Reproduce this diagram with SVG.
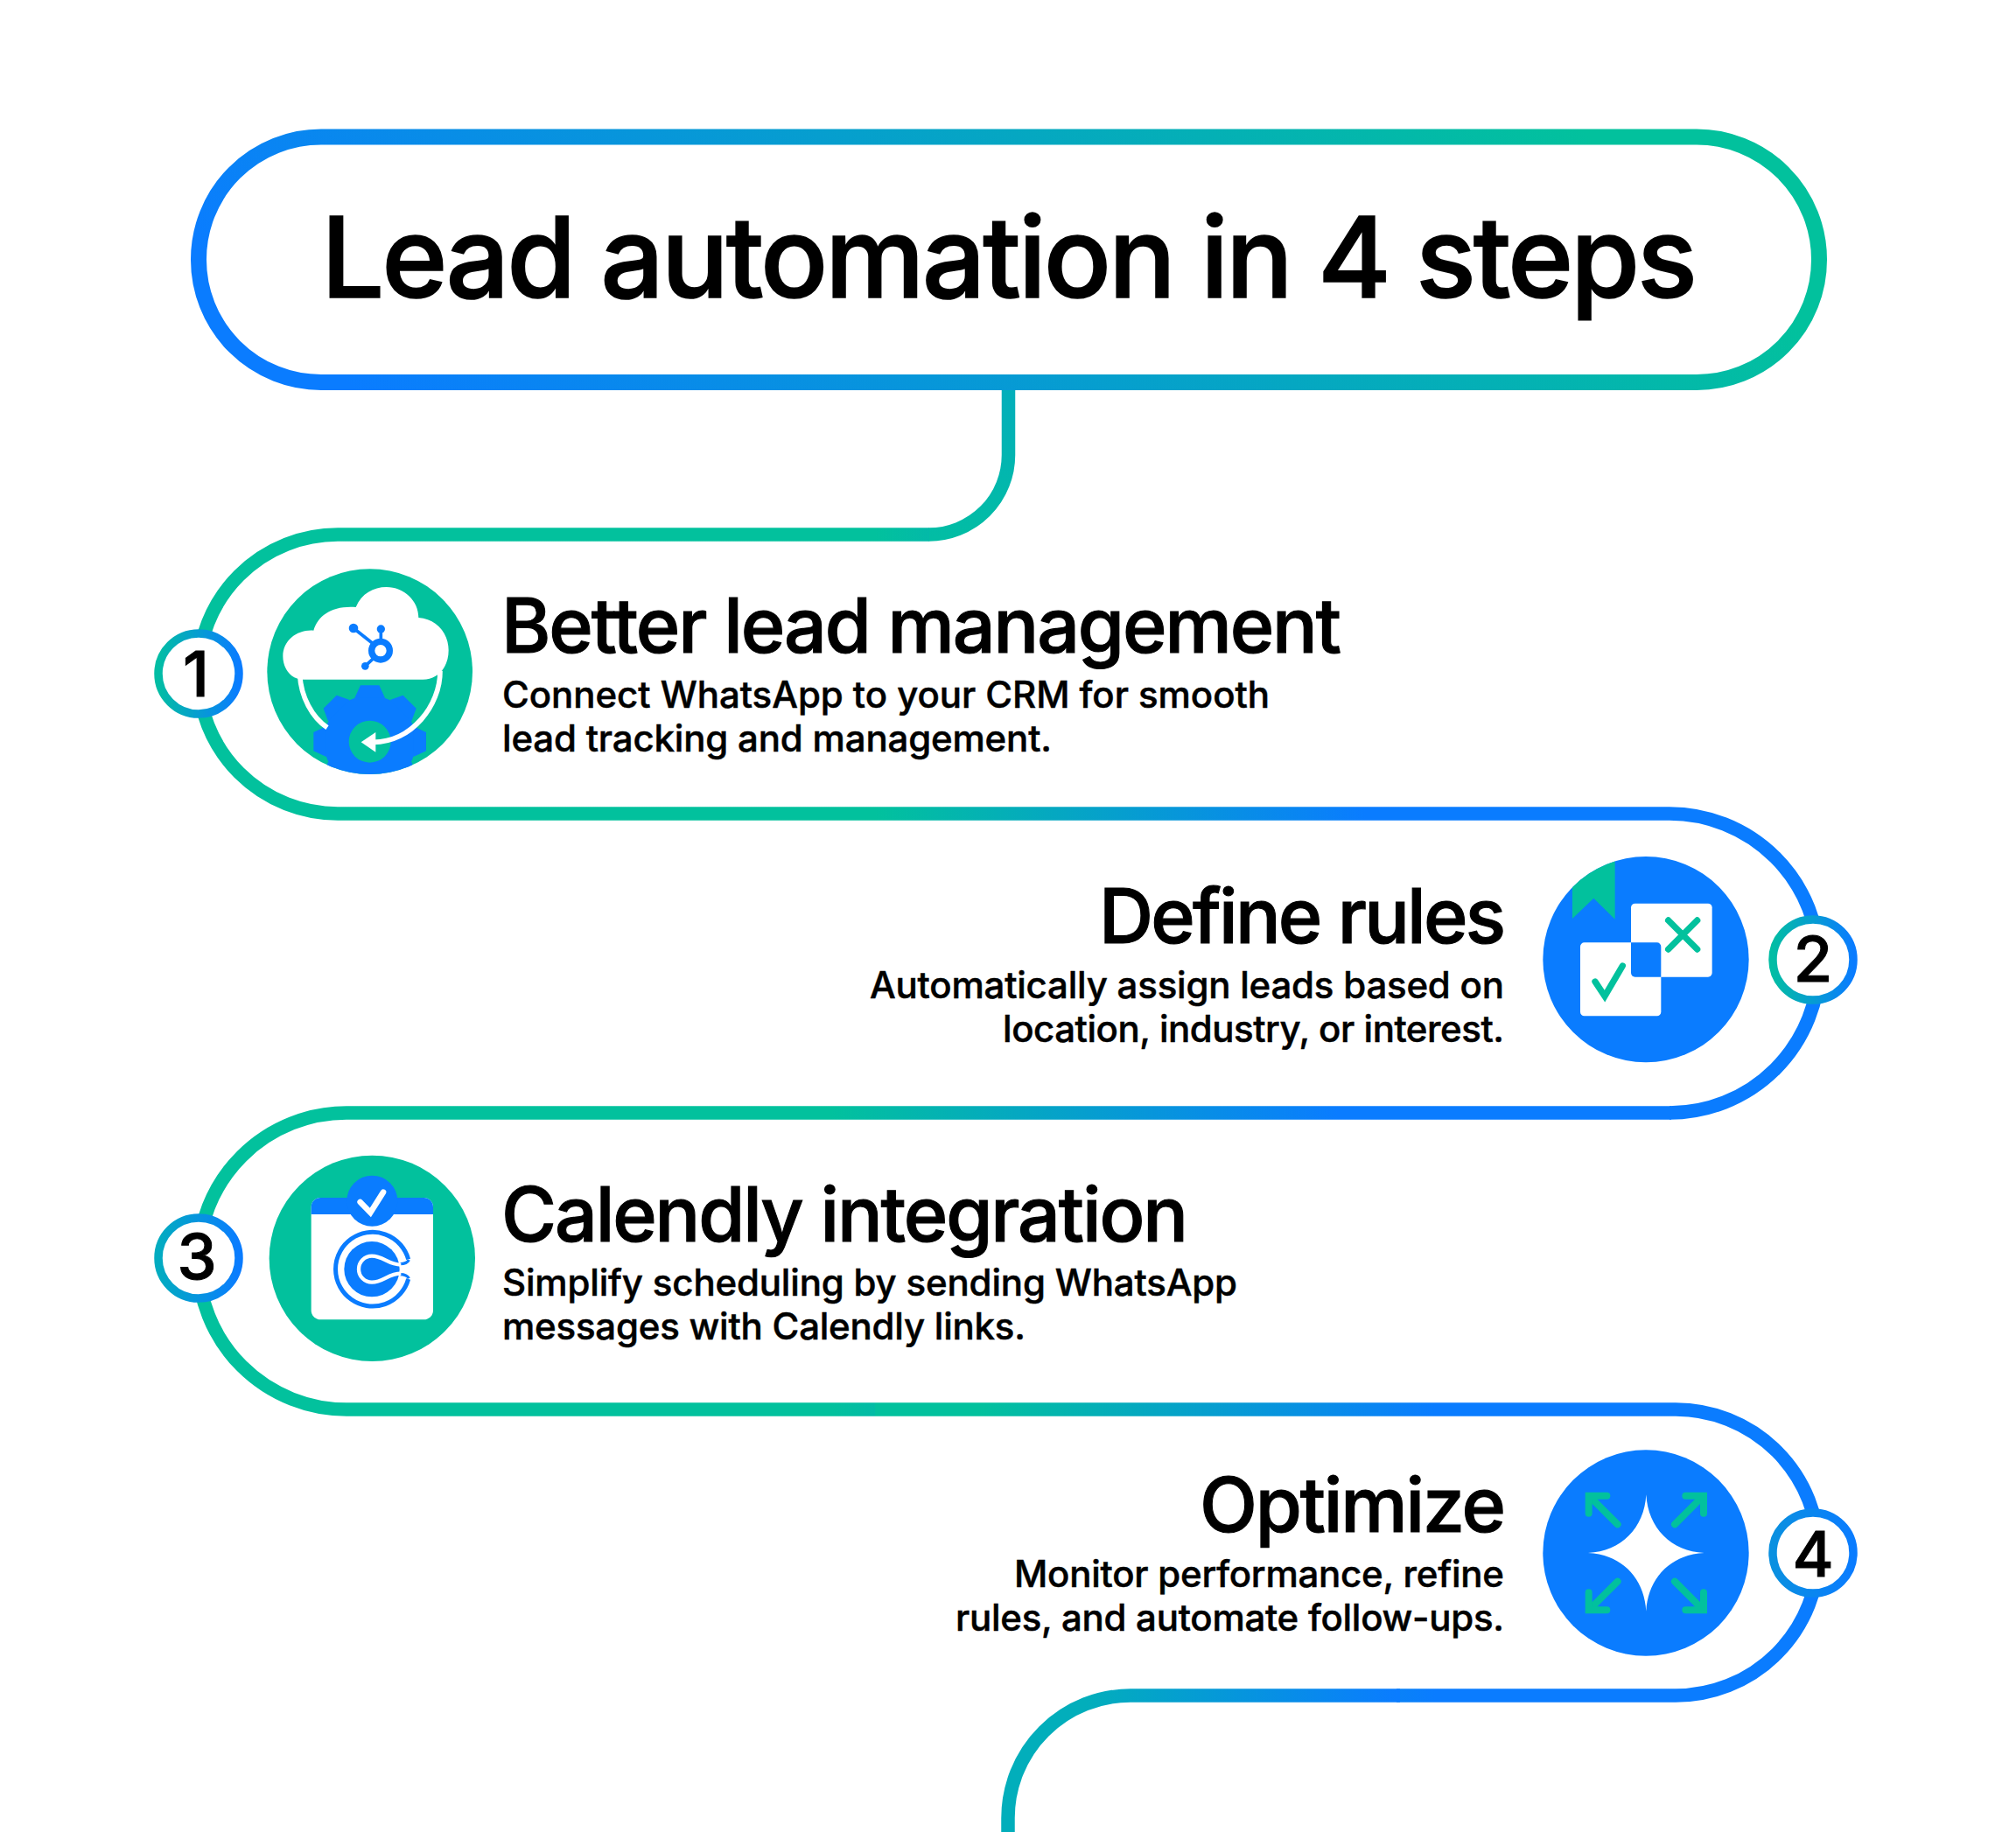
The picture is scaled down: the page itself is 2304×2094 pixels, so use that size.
<svg xmlns="http://www.w3.org/2000/svg" width="2304" height="2094" viewBox="0 0 2304 2094">
<style>
text{font-family:"Inter","Liberation Sans",sans-serif;font-weight:500;fill:#000;stroke:#000}
.title{font-size:128px;stroke-width:1.6px}
.h{font-size:86px;stroke-width:1.1px}
.d{font-size:42px;stroke-width:.5px}
.n{font-size:72px;text-anchor:middle;stroke-width:1px}
.e{text-anchor:end}
.line{fill:none;stroke-width:15.5}
.badge{fill:#fff;stroke-width:9.5}
.g{fill:#02c19d}
.b{fill:#0a7cff}
.w{fill:#fff}
</style>
<defs>
<linearGradient id="gTitle" gradientUnits="userSpaceOnUse" x1="400" y1="440" x2="1180" y2="-420"><stop offset="0" stop-color="#0a7cff"/><stop offset="1" stop-color="#02c19d"/></linearGradient>
<linearGradient id="gConn" gradientUnits="userSpaceOnUse" x1="0" y1="445" x2="0" y2="615"><stop offset="0" stop-color="#02aebb"/><stop offset="1" stop-color="#02bda4"/></linearGradient>
<linearGradient id="gR1" gradientUnits="userSpaceOnUse" x1="1000" y1="0" x2="1560" y2="0"><stop offset="0" stop-color="#02c19d"/><stop offset="1" stop-color="#0a7cff"/></linearGradient>
<linearGradient id="gR2" gradientUnits="userSpaceOnUse" x1="950" y1="0" x2="1530" y2="0"><stop offset="0" stop-color="#02c19d"/><stop offset="1" stop-color="#0a7cff"/></linearGradient>
<linearGradient id="gR3" gradientUnits="userSpaceOnUse" x1="1120" y1="0" x2="1640" y2="0"><stop offset="0" stop-color="#02c19d"/><stop offset="1" stop-color="#0a7cff"/></linearGradient>
<linearGradient id="gEnd" gradientUnits="userSpaceOnUse" x1="1596" y1="0" x2="1240" y2="0"><stop offset="0" stop-color="#0a7cff"/><stop offset="1" stop-color="#02aebb"/></linearGradient>
<linearGradient id="gB1" gradientUnits="objectBoundingBox" x1="0" y1="0.5" x2="1" y2="0.5"><stop offset="0" stop-color="#02bda4"/><stop offset="1" stop-color="#0a7cff"/></linearGradient>
<linearGradient id="gB3" gradientUnits="objectBoundingBox" x1="0" y1="0.5" x2="1" y2="0.5"><stop offset="0" stop-color="#02acc0"/><stop offset="1" stop-color="#0a7cff"/></linearGradient>
<linearGradient id="gB4" gradientUnits="objectBoundingBox" x1="0" y1="0.5" x2="1" y2="0.5"><stop offset="0" stop-color="#0a90e0"/><stop offset="1" stop-color="#0a7cff"/></linearGradient>
<clipPath id="c1"><circle cx="818" cy="503" r="352"/></clipPath>
<clipPath id="c2"><circle cx="483" cy="410" r="353"/></clipPath>
<clipPath id="c3"><rect x="600" y="300" width="322" height="300"/></clipPath>
<path id="tooth" d="M-52 -150L-32 -193H32L52 -150Z"/>
</defs>

<g id="connectors">
<path class="line" stroke="url(#gConn)" d="M1152.500 440V520A91 91 0 0 1 1061.500 611"/>
<path class="line" stroke="url(#gR1)" d="M1062 611H386A159.500 159.500 0 0 0 386 930H1908A171 171 0 0 1 1908 1272"/>
<path class="line" stroke="url(#gR2)" d="M1910 1272H396A169.500 169.500 0 0 0 396 1611H1000"/>
<path class="line" stroke="url(#gR3)" d="M1000 1611H1915A163.500 163.500 0 0 1 1915 1938H1596"/>
<path class="line" stroke="url(#gEnd)" d="M1600 1938H1292A140 140 0 0 0 1152 2078V2094"/>
</g>

<g id="title">
<rect x="227" y="156.500" width="1852" height="280.500" rx="140" fill="#fff" stroke="url(#gTitle)" stroke-width="18"/>
<text class="title" x="367" y="340" textLength="1573" lengthAdjust="spacing">Lead automation in 4 steps</text>
</g>

<g id="step1">
<circle class="badge" cx="227" cy="770" r="46" stroke="url(#gB1)"/>
<text class="n" x="224" y="796">1</text>
<g id="icon1" transform="translate(150,600) scale(.33333)">
<circle class="g" cx="818" cy="503" r="352"/>
<g clip-path="url(#c1)">
<g class="b" transform="translate(818,743)">
<circle r="158"/>
<use href="#tooth"/><use href="#tooth" transform="rotate(45)"/><use href="#tooth" transform="rotate(90)"/><use href="#tooth" transform="rotate(135)"/><use href="#tooth" transform="rotate(180)"/><use href="#tooth" transform="rotate(225)"/><use href="#tooth" transform="rotate(270)"/><use href="#tooth" transform="rotate(315)"/>
</g>
<circle class="g" cx="818" cy="743" r="72"/>
</g>
<path fill="none" stroke="#fff" stroke-width="17" d="M578 515C582 590 620 660 672 695"/>
<path fill="none" stroke="#fff" stroke-width="17" d="M1059 500C1060 620 960 745 830 745"/>
<path class="w" d="M788 745L838 711V779Z"/>
<path class="w" d="M590 530C545 530 520 490 520 450C520 395 570 358 625 362C640 310 690 276 770 282C790 235 830 213 875 213C935 213 985 260 985 318C1045 322 1088 370 1088 430C1088 490 1050 530 1000 530Z"/>
<g fill="none" stroke="#0a7cff" stroke-width="11">
<path d="M762 354L830 408"/><path d="M856 357V395"/><path d="M802 484L830 458"/>
<circle cx="855" cy="431" r="31" stroke-width="22"/>
</g>
<g class="b"><circle cx="762" cy="354" r="16"/><circle cx="856" cy="357" r="14"/><circle cx="802" cy="484" r="13"/></g>
</g>
<text class="h" x="573" y="746" textLength="960" lengthAdjust="spacing">Better lead management</text>
<text class="d" x="574" y="809" textLength="877" lengthAdjust="spacing">Connect WhatsApp to your CRM for smooth</text>
<text class="d" x="574" y="859" textLength="628" lengthAdjust="spacing">lead tracking and management.</text>
</g>

<g id="step2">
<circle class="badge" cx="2072" cy="1097" r="46" stroke="url(#gB1)"/>
<text class="n" x="2072" y="1122">2</text>
<g id="icon2" transform="translate(1720,960) scale(.33333)">
<circle class="b" cx="483" cy="410" r="353"/>
<path class="g" clip-path="url(#c2)" d="M231 270V40H377V272L304 200Z"/>
<rect class="w" x="258" y="352" width="277" height="252" rx="14"/>
<rect class="w" x="432" y="218" width="278" height="252" rx="14"/>
<path class="b" d="M432 352H521A14 14 0 0 1 535 366V470H446A14 14 0 0 1 432 456Z"/>
<path fill="none" stroke="#02c19d" stroke-width="22" stroke-linecap="round" stroke-linejoin="miter" d="M309 486L342 536L403 432"/>
<path fill="none" stroke="#02c19d" stroke-width="22" stroke-linecap="round" d="M560 276L659 375M659 276L560 375"/>
</g>
<text class="h e" x="1721" y="1078" textLength="465" lengthAdjust="spacing">Define rules</text>
<text class="d e" x="1719" y="1141" textLength="725" lengthAdjust="spacing">Automatically assign leads based on</text>
<text class="d e" x="1719" y="1191" textLength="573" lengthAdjust="spacing">location, industry, or interest.</text>
</g>

<g id="step3">
<circle class="badge" cx="227" cy="1438" r="46" stroke="url(#gB3)"/>
<text class="n" x="225" y="1462">3</text>
<g id="icon3" transform="translate(150,1300) scale(.33333)">
<circle class="g" cx="826" cy="415" r="353"/>
<rect class="w" x="617" y="207" width="418" height="418" rx="32"/>
<path class="b" d="M617 264V239A32 32 0 0 1 649 207H1003A32 32 0 0 1 1035 239V264Z"/>
<circle class="b" cx="826" cy="218" r="87"/>
<path fill="none" stroke="#fff" stroke-width="20" stroke-linecap="round" d="M785 222L820 258L864 188"/>
<path fill="none" stroke="#0a7cff" stroke-width="15" d="M950 418A127 127 0 1 0 950 486"/>
<path fill="none" stroke="#0a7cff" stroke-width="10" d="M952 420Q945 434 922 434M952 484Q945 470 922 470"/>
<circle class="b" cx="825" cy="452" r="95" clip-path="url(#c3)"/>
<path fill="none" stroke="#fff" stroke-width="13" d="M925 437C880 437 865 407 825 407A45 45 0 0 0 825 497C865 497 880 467 925 467"/>
</g>
<text class="h" x="573" y="1419" textLength="785" lengthAdjust="spacing">Calendly integration</text>
<text class="d" x="574" y="1481" textLength="840" lengthAdjust="spacing">Simplify scheduling by sending WhatsApp</text>
<text class="d" x="574" y="1531" textLength="598" lengthAdjust="spacing">messages with Calendly links.</text>
</g>

<g id="step4">
<circle class="badge" cx="2072" cy="1775" r="46" stroke="url(#gB4)"/>
<text class="n" x="2072" y="1802">4</text>
<g id="icon4" transform="translate(1720,1640) scale(.33333)">
<circle class="b" cx="483" cy="405" r="353"/>
<path class="w" d="M484 205C490 320 570 400 683 405C570 410 490 490 484 605C478 490 398 410 285 405C398 400 478 320 484 205Z"/>
<g fill="none" stroke="#02c19d" stroke-width="24" stroke-linecap="round">
<path d="M386 307L295 216"/><path d="M349 209H287V269"/>
<path d="M582 307L673 216"/><path d="M619 209H681V269"/>
<path d="M386 503L295 594"/><path d="M349 601H287V541"/>
<path d="M582 503L673 594"/><path d="M619 601H681V541"/>
</g>
</g>
<text class="h e" x="1721" y="1751" textLength="350" lengthAdjust="spacing">Optimize</text>
<text class="d e" x="1719" y="1814" textLength="560" lengthAdjust="spacing">Monitor performance, refine</text>
<text class="d e" x="1719" y="1864" textLength="627" lengthAdjust="spacing">rules, and automate follow-ups.</text>
</g>
</svg>
